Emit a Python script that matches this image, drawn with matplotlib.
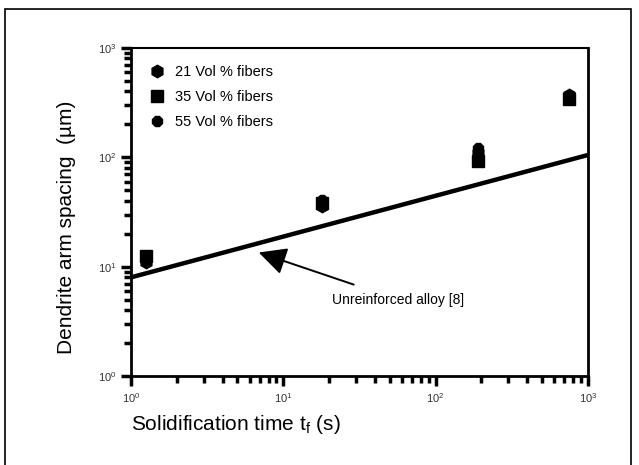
import numpy as np
import matplotlib.pyplot as plt
from matplotlib.patches import Rectangle

plt.rcParams['font.family'] = ['Liberation Sans', 'DejaVu Sans']

# solidification time (s) for each group of measurements
t_points = [1.25, 18, 190, 750]

# dendrite arm spacing (um)
das_21 = [11, 36, 110, 370]
das_35 = [12.5, 38, 92, 340]
das_55 = [12, 41, 122, 360]

# unreinforced alloy line [8]
t_line = [1, 1000]
das_line = [8, 105]

fig = plt.figure(figsize=(6.39, 4.65), dpi=100)
ax = fig.add_axes([0.205, 0.191, 0.715, 0.706])

# border around the whole figure
fig.patches.append(Rectangle((0.008, -0.05), 0.98, 1.03, transform=fig.transFigure,
                             fill=False, edgecolor='black', linewidth=1.2))

ax.plot(t_line, das_line, color='black', linewidth=3.2, solid_capstyle='butt')

ax.plot(t_points, das_21, linestyle='none', marker='h', markersize=9, color='black',
        label='21 Vol % fibers')
ax.plot(t_points, das_35, linestyle='none', marker='s', markersize=8, color='black',
        label='35 Vol % fibers')
ax.plot(t_points, das_55, linestyle='none', marker='8', markersize=8, color='black',
        label='55 Vol % fibers')

ax.set_xscale('log')
ax.set_yscale('log')
ax.set_xlim(1, 1000)
ax.set_ylim(1, 1000)

ax.annotate('Unreinforced alloy [8]', xy=(6.9, 13.5), xytext=(21, 5),
            fontsize=10, va='center', ha='left',
            arrowprops=dict(arrowstyle='-|>,head_length=1.7,head_width=0.85',
                            color='black', linewidth=1.4, shrinkA=12, shrinkB=0))

ax.set_xlabel('Solidification time t$_\\mathregular{f}$ (s)', fontsize=15, loc='left', labelpad=6)
ax.set_ylabel('Dendrite arm spacing  (\u00b5m)', fontsize=15)
ax.yaxis.set_label_coords(-0.12, 0.455)

ax.tick_params(which='major', direction='out', width=2.5, length=7, labelsize=8,
               labelcolor='#333333', top=False, right=False)
ax.tick_params(which='minor', direction='out', width=2.5, length=5, top=False, right=False)

for side in ['left', 'bottom', 'right']:
    ax.spines[side].set_linewidth(2)
ax.spines['top'].set_linewidth(1.5)

ax.legend(loc='upper left', frameon=False, fontsize=10.5, handletextpad=0.6,
          labelspacing=0.75, borderaxespad=0.8, handlelength=1.2)

fig.savefig('out.png', dpi=100)
